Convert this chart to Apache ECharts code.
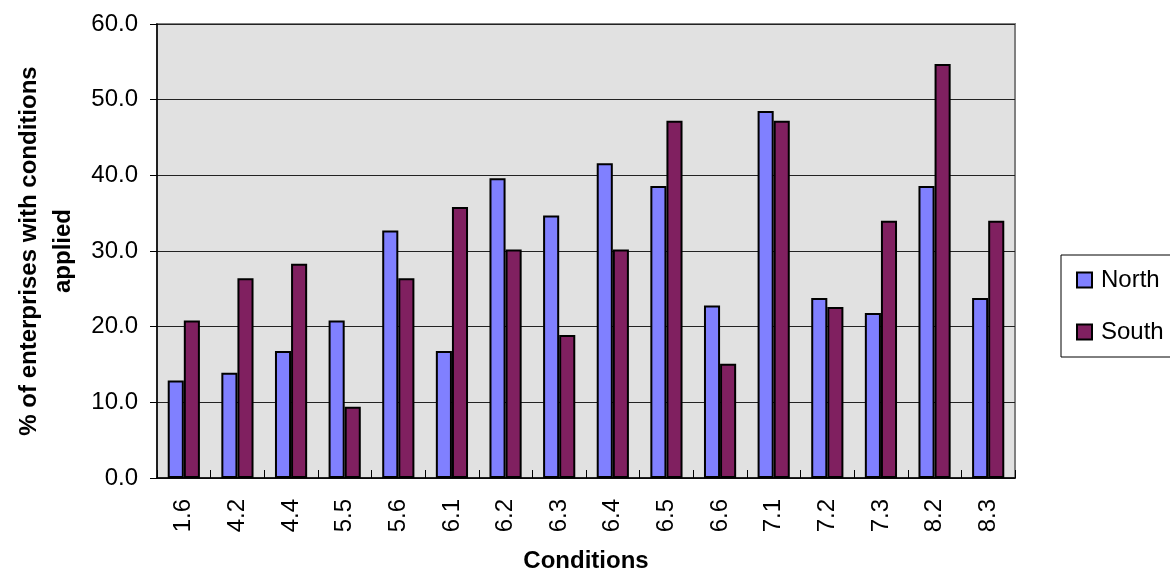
<!DOCTYPE html>
<html>
<head>
<meta charset="utf-8">
<script src="https://cdn.jsdelivr.net/npm/echarts@6/dist/echarts.min.js"></script>
<style>
  html, body { margin: 0; padding: 0; background: #fff; }
  #chart { width: 1170px; height: 578px; }
</style>
</head>
<body>
<div id="chart"></div>
<script>
// Chart data
const conditions = ['1.6', '4.2', '4.4', '5.5', '5.6', '6.1', '6.2', '6.3', '6.4', '6.5', '6.6', '7.1', '7.2', '7.3', '8.2', '8.3']
const northValues = [12.9, 13.9, 16.8, 20.8, 32.7, 16.8, 39.6, 34.7, 41.6, 38.6, 22.8, 48.5, 23.8, 21.8, 38.6, 23.8]
const southValues = [20.8, 26.4, 28.3, 9.4, 26.4, 35.8, 30.2, 18.9, 30.2, 47.2, 15.1, 47.2, 22.6, 34.0, 54.7, 34.0]
const yTicks = { min: 0, max: 60, interval: 10 }

const font = 'Arial, "Liberation Sans", sans-serif'

const chart = echarts.init(document.getElementById('chart'))
chart.setOption({
  animation: false,
  textStyle: { fontFamily: font },
  grid: {
    left: 157,
    right: 155,
    top: 24,
    bottom: 94,
    show: true,
    backgroundColor: '#e1e1e1',
    borderColor: '#808080',
    borderWidth: 2
  },
  legend: {
    orient: 'vertical',
    left: 1061,
    top: 255,
    padding: [13, 20, 13, 15],
    icon: 'rect',
    itemWidth: 15,
    itemHeight: 15,
    itemGap: 28,
    backgroundColor: '#fff',
    borderColor: '#000',
    borderWidth: 1,
    textStyle: { fontSize: 24, color: '#000', fontFamily: font, padding: [0, 0, 0, 4] },
    itemStyle: { borderColor: '#000', borderWidth: 2 },
    data: ['North', 'South']
  },
  xAxis: [
    {
      type: 'category',
      data: conditions,
      name: 'Conditions',
      nameLocation: 'middle',
      nameGap: 71,
      nameTextStyle: { fontSize: 24, fontWeight: 'bold', color: '#000', verticalAlign: 'top' },
      axisLine: { lineStyle: { color: '#000', width: 1.5 } },
      axisTick: { length: 6, lineStyle: { color: '#000' } },
      axisLabel: { rotate: 90, fontSize: 24, color: '#000', margin: 21 }
    },
    {
      // inside half of the crossing tick marks
      type: 'category',
      data: conditions,
      position: 'bottom',
      z: 5,
      axisLine: { show: false },
      axisTick: { show: true, inside: true, length: 8, lineStyle: { color: '#000' } },
      axisLabel: { show: false }
    }
  ],
  yAxis: {
    type: 'value',
    min: yTicks.min,
    max: yTicks.max,
    interval: yTicks.interval,
    name: '% of enterprises with conditions\napplied',
    nameLocation: 'middle',
    nameGap: 76,
    nameTextStyle: { fontSize: 24, fontWeight: 'bold', color: '#000', lineHeight: 34 },
    axisLine: { show: true, lineStyle: { color: '#000', width: 1.5 } },
    axisTick: { show: true, length: 7, lineStyle: { color: '#000' } },
    axisLabel: {
      fontSize: 24,
      color: '#000',
      margin: 19,
      formatter: v => v.toFixed(1)
    },
    splitLine: { lineStyle: { color: '#222', width: 1 } }
  },
  series: [
    {
      name: 'North',
      type: 'bar',
      data: northValues,
      barGap: '0%',
      barCategoryGap: '40%',
      itemStyle: { color: '#8080ff', borderColor: '#000', borderWidth: 2 }
    },
    {
      name: 'South',
      type: 'bar',
      data: southValues,
      itemStyle: { color: '#802060', borderColor: '#000', borderWidth: 2 }
    }
  ]
})

window.addEventListener('resize', () => chart.resize())
</script>
</body>
</html>
